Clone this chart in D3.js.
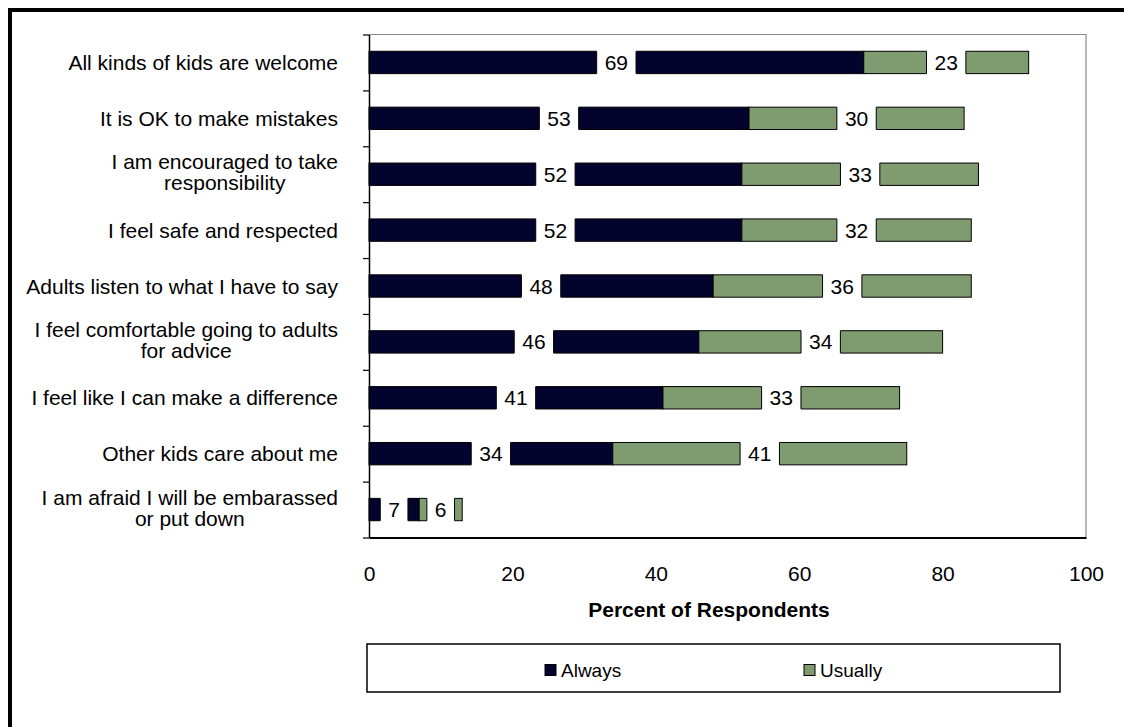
<!DOCTYPE html>
<html><head><meta charset="utf-8">
<script src="https://cdn.jsdelivr.net/npm/d3@7"></script>
<style>
body{margin:0;background:#fff}
svg{display:block}
text{font-family:"Liberation Sans",Arial,sans-serif;fill:#000}
</style>
</head><body>
<svg id="c" width="1124" height="727"></svg>
<script>
const categories = [
  "All kinds of kids are welcome",
  "It is OK to make mistakes",
  "I am encouraged to take\nresponsibility",
  "I feel safe and respected",
  "Adults listen to what I have to say",
  "I feel comfortable going to adults\nfor advice",
  "I feel like I can make a difference",
  "Other kids care about me",
  "I am afraid I will be embarassed\nor put down"
];
const always  = [69, 53, 52, 52, 48, 46, 41, 34, 7];
const usually = [23, 30, 33, 32, 36, 34, 33, 41, 6];
const xTicks = [0, 20, 40, 60, 80, 100];
const seriesNames = ["Always", "Usually"];
const xTitle = "Percent of Respondents";

const colors = {Always: "#03032e", Usually: "#7f9b70"};

const svg = d3.select("#c");

// outer frame (cropped: only top and left visible)
svg.append("path").attr("d", "M10,727 V10 H1124").attr("fill", "none")
  .attr("stroke", "#000").attr("stroke-width", 4);

const x = d3.scaleLinear().domain([0, 100]).range([369, 1086]);
const y = d3.scaleBand().domain(categories).range([34.5, 537.5]).paddingInner(0.6).paddingOuter(0.3);
const yB = d3.scaleLinear().domain([0, categories.length]).range([34.5, 537.5]);

// plot border (top/right grey)
svg.append("path").attr("d", `M${x(0)},${yB(0)} H${x(100)} V${yB(9)}`).attr("fill", "none")
  .attr("stroke", "#888").attr("stroke-width", 1.2);

// stacked data
const rows = categories.map((c, i) => ({c, a: always[i], u: usually[i]}));
const segs = [];
rows.forEach(r => {
  segs.push({c: r.c, s: "Always", x0: 0, x1: r.a, v: r.a});
  segs.push({c: r.c, s: "Usually", x0: r.a, x1: r.a + r.u, v: r.u});
});

const bh = y.bandwidth();
const g = svg.append("g");
g.selectAll("rect.bar").data(segs).join("rect").attr("class", "bar")
  .attr("x", d => x(d.x0)).attr("y", d => y(d.c))
  .attr("width", d => x(d.x1) - x(d.x0)).attr("height", bh)
  .attr("fill", d => colors[d.s]).attr("stroke", "#000").attr("stroke-width", 1);

// labels with white box
const lg = svg.append("g");
segs.forEach(d => {
  const cx = x((d.x0 + d.x1) / 2), cy = y(d.c) + bh / 2;
  const t = lg.append("text").attr("x", cx).attr("y", cy).attr("dy", "0.36em")
    .attr("text-anchor", "middle").style("font-size", "21px").text(d.v);
  const w = t.node().getComputedTextLength() + 16;
  lg.insert("rect", "text").attr("x", cx - w / 2).attr("y", y(d.c) - 1.5).attr("width", w).attr("height", bh + 3).attr("fill", "#fff");
  [cx - w / 2, cx + w / 2].forEach(xx => {
    if (xx > x(d.x0) + 1 && xx < x(d.x1) - 1)
      lg.insert("line", "text").attr("x1", xx).attr("x2", xx).attr("y1", y(d.c)).attr("y2", y(d.c) + bh)
        .attr("stroke", "#000").attr("stroke-width", 1);
  });
});

// y axis
const yAxis = svg.append("g").attr("transform", `translate(${x(0)},0)`)
  .call(d3.axisLeft(yB).ticks(9).tickSize(6).tickFormat("").tickSizeOuter(0));
yAxis.select(".domain").attr("stroke", "#000").attr("stroke-width", 1.5);
yAxis.selectAll(".tick line").attr("stroke", "#000").attr("stroke-width", 1.2);

// x axis
const xAxis = svg.append("g").attr("transform", `translate(0,${yB(9)})`)
  .call(d3.axisBottom(x).tickValues(xTicks).tickSize(0).tickPadding(29));
xAxis.select(".domain").attr("stroke", "#000").attr("stroke-width", 1.8);
xAxis.selectAll(".tick text").style("font-size", "21px").style("font-family", '"Liberation Sans",Arial,sans-serif').attr("fill", "#000");

// category labels
const cl = svg.append("g");
categories.forEach(c => {
  const lines = c.split("\n");
  const cy = y(c) + bh / 2;
  if (lines.length === 1) {
    cl.append("text").attr("x", 338).attr("y", cy).attr("dy", "0.36em").attr("text-anchor", "end")
      .style("font-size", "21px").text(c);
  } else {
    const t = cl.append("text").attr("text-anchor", "middle").style("font-size", "21px");
    lines.forEach((l, i) => t.append("tspan").attr("y", cy - 5 + i * 21).text(l));
    const ws = t.selectAll("tspan").nodes().map(n => n.getComputedTextLength());
    const mw = d3.max(ws);
    t.selectAll("tspan").attr("x", 338 - mw / 2);
  }
});

// x title
svg.append("text").attr("x", 709).attr("y", 617).attr("text-anchor", "middle")
  .style("font-size", "21px").style("font-weight", "bold").text(xTitle);

// legend
svg.append("rect").attr("x", 367).attr("y", 644).attr("width", 693).attr("height", 48)
  .attr("fill", "#fff").attr("stroke", "#000").attr("stroke-width", 1.5);
const legX = [545, 804];
seriesNames.forEach((s, i) => {
  svg.append("rect").attr("x", legX[i]).attr("y", 664.5).attr("width", 11).attr("height", 11)
    .attr("fill", colors[s]).attr("stroke", "#000").attr("stroke-width", 1);
  svg.append("text").attr("x", legX[i] + 16).attr("y", 677).style("font-size", "19px").text(s);
});
</script>
</body></html>
